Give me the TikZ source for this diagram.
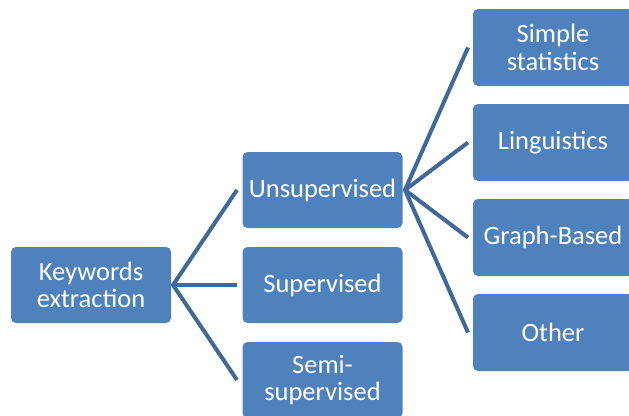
\documentclass[tikz,border=0pt]{standalone}
\usepackage{fontspec}
\setmainfont{Carlito}
\definecolor{boxblue}{RGB}{79,129,189}
\definecolor{linkblue}{RGB}{64,104,152}
\begin{document}
\begin{tikzpicture}[x=1pt,y=-1pt,
  catbox/.style={fill=boxblue, rounded corners=5pt, minimum width=160pt, minimum height=76pt,
    text=white, align=center, inner sep=0pt,
    font=\fontsize{26.5pt}{27.5pt}\selectfont},
  link/.style={draw=linkblue, line width=4pt}]
\useasboundingbox (0,0) rectangle (629,415);
\clip (0,0) rectangle (629,415);
\node[catbox] (kw) at (91,285) {Keywords\\extraction};
\node[catbox] (uns) at (322.5,190) {Unsupervised};
\node[catbox] (sup) at (322.5,285) {Supervised};
\node[catbox] (semi) at (322.5,380) {Semi-\\supervised};
\node[catbox, minimum height=77pt] (simp) at (553,47.5) {Simple\\statistics};
\node[catbox, minimum height=77pt] (ling) at (553,142.5) {Linguistics};
\node[catbox, minimum height=77pt] (graph) at (553,237.5) {Graph-Based};
\node[catbox, minimum height=77pt] (oth) at (553,332.5) {Other};
\coordinate (kwo) at (173,285);
\coordinate (unsi) at (237,190);
\coordinate (supi) at (237,285);
\coordinate (semii) at (237,380);
\coordinate (unso) at (405,190);
\coordinate (simpi) at (468,47.5);
\coordinate (lingi) at (468,142.5);
\coordinate (graphi) at (468,237.5);
\coordinate (othi) at (468,332.5);
\draw[link] (unsi) -- (kwo) -- (semii);
\draw[link] (kwo) -- (supi);
\draw[link] (simpi) -- (unso) -- (othi);
\draw[link] (unso) -- (lingi);
\draw[link] (unso) -- (graphi);
\end{tikzpicture}
\end{document}
